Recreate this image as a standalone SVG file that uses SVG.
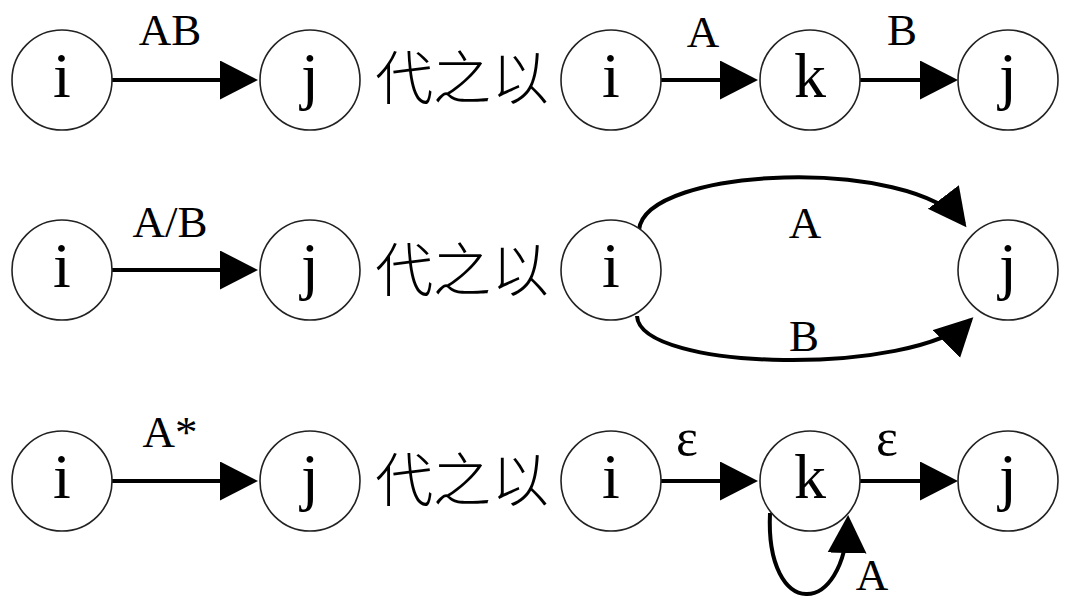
<svg xmlns="http://www.w3.org/2000/svg" width="1072" height="608" viewBox="0 0 1072 608">
<defs>
<style>
.node circle{fill:#fff;stroke:#222;stroke-width:1.6}
.node text{font-family:"Liberation Serif","Times New Roman",serif;font-size:64px;text-anchor:middle;fill:#000}
.lbl{font-family:"Liberation Serif","Times New Roman",serif;font-size:45px;text-anchor:middle;fill:#000}
.eps{font-size:52px}
.cjk{font-family:"Noto Sans CJK SC","Noto Sans CJK JP",sans-serif;font-size:58px;font-weight:300;fill:#000}
#edges path{fill:none;stroke:#000;stroke-width:4;marker-end:url(#ah)}
</style>
<marker id="ah" markerUnits="userSpaceOnUse" markerWidth="42" markerHeight="42" refX="34" refY="19.5" orient="auto">
<path d="M0,0 L38,19.5 L0,39 Z" fill="#000"/>
</marker>
</defs>
<rect width="1072" height="608" fill="#fff"/>

<g id="edges">
<path d="M112,80 L254,80"/>
<path d="M661,80 L754,80"/>
<path d="M860,80 L954,80"/>
<path d="M112,270 L254,270"/>
<path d="M639,230 C645,166 912,156 964,224"/>
<path d="M637,316 C640,372 914,376 970.5,320"/>
<path d="M112,481 L254,481"/>
<path d="M661,481 L754,481"/>
<path d="M860,481 L954,481"/>
<path d="M770,513 C765,620 845,620 848,519"/>
</g>

<g id="labels">
<text class="lbl" x="170" y="45">AB</text>
<text class="lbl" x="703" y="47">A</text>
<text class="lbl" x="902" y="45">B</text>
<text class="lbl" x="170" y="237">A/B</text>
<text class="lbl" x="805" y="238">A</text>
<text class="lbl" x="804" y="351">B</text>
<text class="lbl" x="170" y="447">A*</text>
<text class="lbl eps" x="687" y="455">ε</text>
<text class="lbl eps" x="887" y="455">ε</text>
<text class="lbl" x="872" y="590">A</text>
<text class="cjk" x="375" y="99">代之以</text>
<text class="cjk" x="375" y="291">代之以</text>
<text class="cjk" x="375" y="501">代之以</text>
</g>

<g id="r1-i" class="node"><circle cx="62" cy="80" r="50"/><text x="62" y="97">i</text></g>
<g id="r1-j" class="node"><circle cx="310" cy="80" r="50"/><text x="310" y="97">j</text></g>
<g id="r1-i2" class="node"><circle cx="611" cy="80" r="50"/><text x="611" y="97">i</text></g>
<g id="r1-k" class="node"><circle cx="810" cy="80" r="50"/><text x="810" y="97">k</text></g>
<g id="r1-j2" class="node"><circle cx="1008" cy="80" r="50"/><text x="1008" y="97">j</text></g>

<g id="r2-i" class="node"><circle cx="62" cy="270" r="50"/><text x="62" y="287">i</text></g>
<g id="r2-j" class="node"><circle cx="310" cy="270" r="50"/><text x="310" y="287">j</text></g>
<g id="r2-i2" class="node"><circle cx="611" cy="270" r="50"/><text x="611" y="287">i</text></g>
<g id="r2-j2" class="node"><circle cx="1008" cy="270" r="50"/><text x="1008" y="287">j</text></g>

<g id="r3-i" class="node"><circle cx="62" cy="481" r="50"/><text x="62" y="498">i</text></g>
<g id="r3-j" class="node"><circle cx="310" cy="481" r="50"/><text x="310" y="498">j</text></g>
<g id="r3-i2" class="node"><circle cx="611" cy="481" r="50"/><text x="611" y="498">i</text></g>
<g id="r3-k" class="node"><circle cx="810" cy="481" r="50"/><text x="810" y="498">k</text></g>
<g id="r3-j2" class="node"><circle cx="1008" cy="481" r="50"/><text x="1008" y="498">j</text></g>
</svg>
